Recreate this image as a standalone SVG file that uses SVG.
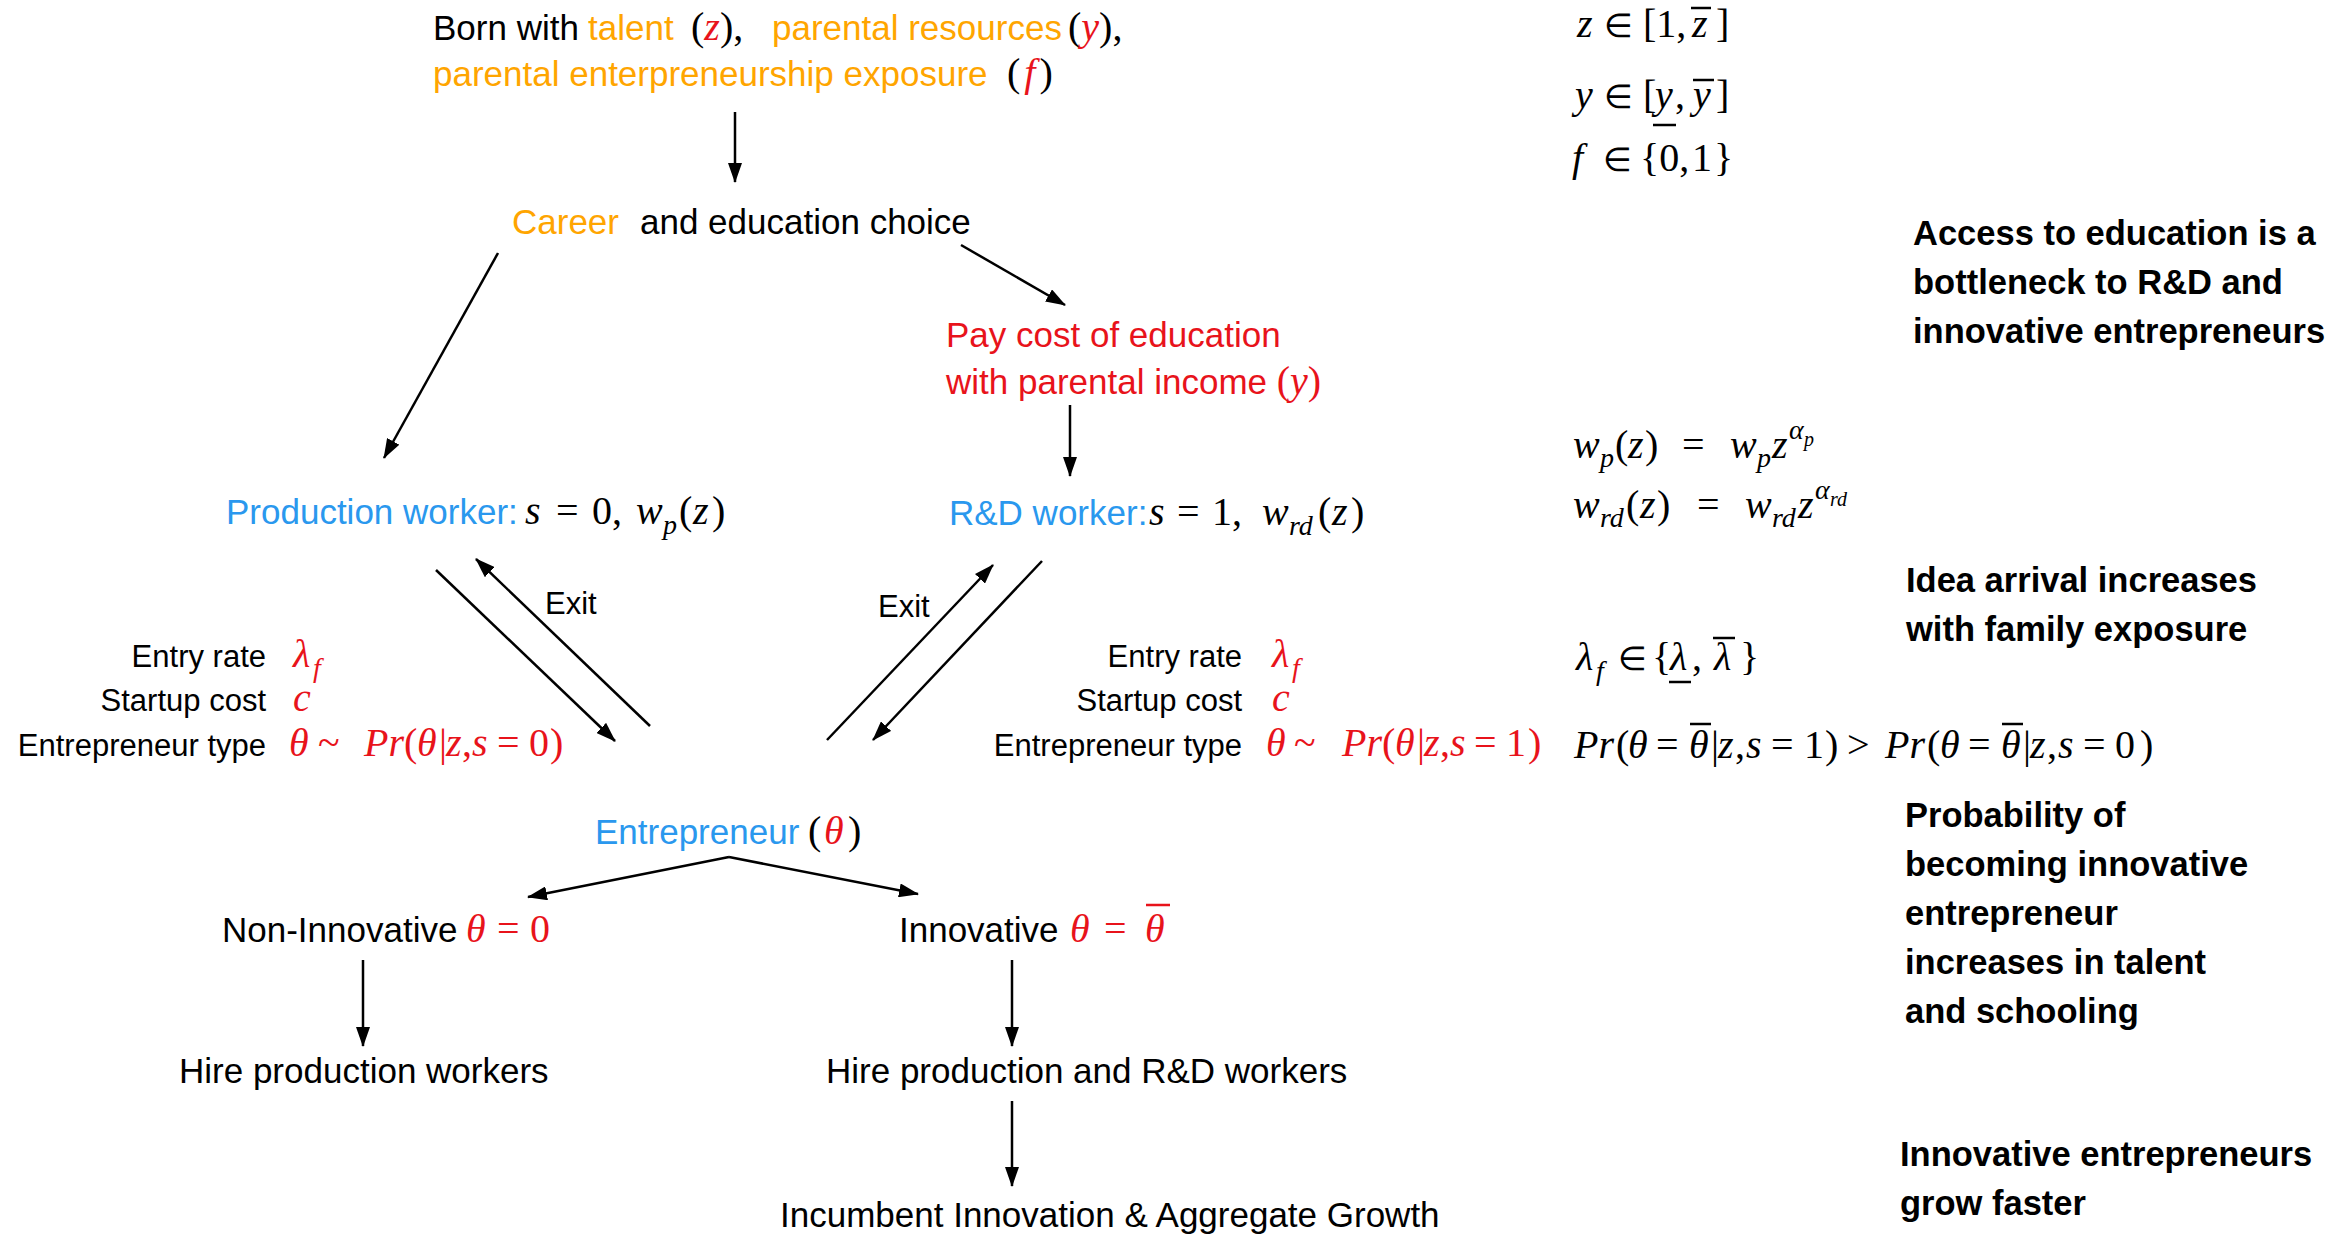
<svg xmlns="http://www.w3.org/2000/svg" width="2333" height="1235" viewBox="0 0 2333 1235">
<defs>
<style>
.t{font-family:"Liberation Sans",Arial,sans-serif;font-size:35px;fill:#000}
.s{font-family:"Liberation Sans",Arial,sans-serif;font-size:31px;fill:#000}
.b{font-family:"Liberation Sans",Arial,sans-serif;font-size:34.5px;font-weight:bold;fill:#000}
.m{font-family:"Liberation Serif","Times New Roman",serif;font-size:40px;fill:#000}
.i{font-style:italic}
.el{font-size:33px}
.or{fill:#FFA500}
.rd{fill:#E8131B}
.bl{fill:#2A98EE}
.sub{font-size:28px}
.ss{font-size:20px}
.bar{stroke:#000;stroke-width:2.5}
.rbar{stroke:#E8131B;stroke-width:2.5}
.c{stroke:#000;stroke-width:2.5;fill:none;marker-end:url(#ah)}
</style>
<marker id="ah" viewBox="0 0 20 14" refX="19" refY="7" markerWidth="20" markerHeight="14" orient="auto" markerUnits="userSpaceOnUse"><path d="M0,0 L20,7 L0,14 z" fill="#000"/></marker>
</defs>
<rect width="2333" height="1235" fill="#fff"/>

<g id="node-born">
<text class="t" y="40"><tspan x="433">Born with</tspan><tspan x="588" class="or">talent</tspan><tspan x="691" class="m">(</tspan><tspan class="m i rd">z</tspan><tspan class="m">),</tspan><tspan x="772" class="or">parental resources</tspan><tspan x="1068" class="m">(</tspan><tspan class="m i rd">y</tspan><tspan class="m">),</tspan></text>
<text class="t" y="86"><tspan x="433" class="or">parental enterpreneurship exposure</tspan><tspan x="1007" class="m">(</tspan><tspan class="m i rd" dx="4">f</tspan><tspan class="m" dx="4">)</tspan></text>
</g>

<g id="node-career">
<text class="t" y="234"><tspan x="512" class="or">Career</tspan><tspan x="640">and education choice</tspan></text>
</g>

<g id="node-paycost">
<text class="t rd" x="946" y="347">Pay cost of education</text>
<text class="t rd" x="946" y="394">with parental income <tspan class="m rd">(</tspan><tspan class="m i rd">y</tspan><tspan class="m rd">)</tspan></text>
</g>

<g id="node-production">
<text class="t bl" x="226" y="524">Production worker:</text>
<text class="m" y="524"><tspan x="525" class="i">s</tspan><tspan x="556">=</tspan><tspan x="592">0,</tspan><tspan x="636" class="i">w</tspan><tspan x="663" y="534" class="i sub">p</tspan><tspan x="679" y="524">(</tspan><tspan x="693" class="i">z</tspan><tspan x="712">)</tspan></text>
</g>

<g id="node-rd">
<text class="t bl" x="949" y="525">R&amp;D worker:</text>
<text class="m" y="525"><tspan x="1149" class="i">s</tspan><tspan x="1177">=</tspan><tspan x="1212">1,</tspan><tspan x="1262" class="i">w</tspan><tspan x="1289" y="535" class="i sub">rd</tspan><tspan x="1318" y="525">(</tspan><tspan x="1332" class="i">z</tspan><tspan x="1351">)</tspan></text>
</g>

<g id="label-exit-left"><text class="s" x="545" y="614">Exit</text></g>
<g id="label-exit-right"><text class="s" x="878" y="617">Exit</text></g>

<g id="node-entry-left">
<text class="s" x="266" y="667" text-anchor="end">Entry rate</text>
<text class="s" x="266" y="711" text-anchor="end">Startup cost</text>
<text class="s" x="266" y="756" text-anchor="end">Entrepreneur type</text>
<text class="m rd" y="667"><tspan x="293" class="i">λ</tspan><tspan x="313" y="677" class="i sub">f</tspan></text>
<text class="m rd i" x="293" y="711">c</text>
<text class="m rd" y="756"><tspan x="289" class="i">θ</tspan><tspan x="318">~</tspan><tspan x="364" class="i">Pr</tspan><tspan>(</tspan><tspan x="417" class="i">θ</tspan><tspan x="439">|</tspan><tspan x="446" class="i">z</tspan><tspan x="462">,</tspan><tspan x="472" class="i">s</tspan><tspan x="497">=</tspan><tspan x="529">0</tspan><tspan x="550">)</tspan></text>
</g>

<g id="node-entry-right">
<text class="s" x="1242" y="667" text-anchor="end">Entry rate</text>
<text class="s" x="1242" y="711" text-anchor="end">Startup cost</text>
<text class="s" x="1242" y="756" text-anchor="end">Entrepreneur type</text>
<text class="m rd" y="667"><tspan x="1272" class="i">λ</tspan><tspan x="1292" y="677" class="i sub">f</tspan></text>
<text class="m rd i" x="1272" y="711">c</text>
<text class="m rd" y="756"><tspan x="1266" class="i">θ</tspan><tspan x="1294">~</tspan><tspan x="1342" class="i">Pr</tspan><tspan>(</tspan><tspan x="1395" class="i">θ</tspan><tspan x="1417">|</tspan><tspan x="1424" class="i">z</tspan><tspan x="1440">,</tspan><tspan x="1450" class="i">s</tspan><tspan x="1474">=</tspan><tspan x="1506">1</tspan><tspan x="1528">)</tspan></text>
</g>

<g id="node-entrepreneur">
<text class="t bl" x="595" y="844">Entrepreneur</text>
<text class="m" y="844"><tspan x="808">(</tspan><tspan x="824" class="i rd">θ</tspan><tspan x="848">)</tspan></text>
</g>

<g id="node-noninnovative">
<text class="t" x="222" y="942">Non-Innovative</text>
<text class="m rd" y="942" font-size="42"><tspan x="466" class="i">θ</tspan><tspan x="497">=</tspan><tspan x="530">0</tspan></text>
</g>

<g id="node-innovative">
<text class="t" x="899" y="942">Innovative</text>
<text class="m rd" y="942" font-size="42"><tspan x="1070" class="i">θ</tspan><tspan x="1104">=</tspan><tspan x="1145" class="i">θ</tspan></text>
<line class="rbar" x1="1146" y1="905" x2="1170" y2="905"/>
</g>

<g id="node-hire-prod"><text class="t" x="179" y="1083">Hire production workers</text></g>
<g id="node-hire-both"><text class="t" x="826" y="1083">Hire production and R&amp;D workers</text></g>
<g id="node-growth"><text class="t" x="780" y="1227">Incumbent Innovation &amp; Aggregate Growth</text></g>

<g id="math-right">
<text class="m" y="37"><tspan x="1577" class="i">z</tspan><tspan x="1604" class="el">∈</tspan><tspan x="1643">[1,</tspan><tspan x="1692" class="i">z</tspan><tspan x="1716">]</tspan></text>
<line class="bar" x1="1691" y1="8" x2="1711" y2="8"/>
<text class="m" y="108"><tspan x="1575" class="i">y</tspan><tspan x="1604" class="el">∈</tspan><tspan x="1643">[</tspan><tspan x="1655" class="i">y</tspan><tspan x="1675">,</tspan><tspan x="1693" class="i">y</tspan><tspan x="1716">]</tspan></text>
<line class="bar" x1="1653" y1="125" x2="1676" y2="125"/>
<line class="bar" x1="1693" y1="80" x2="1714" y2="80"/>
<text class="m" y="171"><tspan x="1572" class="i">f</tspan><tspan x="1603" class="el">∈</tspan><tspan x="1640">{0,</tspan><tspan x="1692">1</tspan><tspan x="1714">}</tspan></text>

<text class="m" y="458"><tspan x="1573" class="i">w</tspan><tspan x="1600" y="467" class="i sub">p</tspan><tspan x="1615" y="458">(</tspan><tspan x="1628" class="i">z</tspan><tspan x="1645">)</tspan><tspan x="1682">=</tspan><tspan x="1730" class="i">w</tspan><tspan x="1757" y="467" class="i sub">p</tspan><tspan x="1772" y="458" class="i">z</tspan><tspan x="1789" y="439" class="i sub">α</tspan><tspan x="1804" y="446" class="i ss">p</tspan></text>
<text class="m" y="518"><tspan x="1573" class="i">w</tspan><tspan x="1600" y="527" class="i sub">rd</tspan><tspan x="1626" y="518">(</tspan><tspan x="1640" class="i">z</tspan><tspan x="1657">)</tspan><tspan x="1697">=</tspan><tspan x="1745" class="i">w</tspan><tspan x="1772" y="527" class="i sub">rd</tspan><tspan x="1798" y="518" class="i">z</tspan><tspan x="1815" y="499" class="i sub">α</tspan><tspan x="1830" y="506" class="i ss">rd</tspan></text>

<text class="m" y="670"><tspan x="1576" class="i">λ</tspan><tspan x="1596" y="680" class="i sub">f</tspan><tspan x="1618" y="670" class="el">∈</tspan><tspan x="1652">{</tspan><tspan x="1670" class="i">λ</tspan><tspan x="1692">,</tspan><tspan x="1714" class="i">λ</tspan><tspan x="1740">}</tspan></text>
<line class="bar" x1="1669" y1="682" x2="1691" y2="682"/>
<line class="bar" x1="1713" y1="638" x2="1735" y2="638"/>

<text class="m" y="758"><tspan x="1574" class="i">Pr</tspan><tspan x="1616">(</tspan><tspan x="1628" class="i">θ</tspan><tspan x="1656">=</tspan><tspan x="1689" class="i">θ</tspan><tspan x="1711">|</tspan><tspan x="1718" class="i">z</tspan><tspan x="1735">,</tspan><tspan x="1746" class="i">s</tspan><tspan x="1771">=</tspan><tspan x="1804">1</tspan><tspan x="1825">)</tspan><tspan x="1847">&gt;</tspan><tspan x="1885" class="i">Pr</tspan><tspan x="1927">(</tspan><tspan x="1940" class="i">θ</tspan><tspan x="1968">=</tspan><tspan x="2001" class="i">θ</tspan><tspan x="2023">|</tspan><tspan x="2030" class="i">z</tspan><tspan x="2047">,</tspan><tspan x="2058" class="i">s</tspan><tspan x="2083">=</tspan><tspan x="2115">0</tspan><tspan x="2140">)</tspan></text>
<line class="bar" x1="1690" y1="724" x2="1711" y2="724"/>
<line class="bar" x1="2002" y1="724" x2="2023" y2="724"/>
</g>

<g id="notes">
<text class="b" y="245"><tspan x="1913">Access to education is a</tspan><tspan x="1913" y="294">bottleneck to R&amp;D and</tspan><tspan x="1913" y="343">innovative entrepreneurs</tspan></text>
<text class="b" y="592"><tspan x="1906">Idea arrival increases</tspan><tspan x="1906" y="641">with family exposure</tspan></text>
<text class="b" y="827"><tspan x="1905">Probability of</tspan><tspan x="1905" y="876">becoming innovative</tspan><tspan x="1905" y="925">entrepreneur</tspan><tspan x="1905" y="974">increases in talent</tspan><tspan x="1905" y="1023">and schooling</tspan></text>
<text class="b" y="1166"><tspan x="1900">Innovative entrepreneurs</tspan><tspan x="1900" y="1215">grow faster</tspan></text>
</g>

<g id="connectors">
<line class="c" x1="735" y1="112" x2="735" y2="182"/>
<line class="c" x1="498" y1="253" x2="384" y2="458"/>
<line class="c" x1="961" y1="245" x2="1065" y2="305"/>
<line class="c" x1="1070" y1="405" x2="1070" y2="476"/>
<line class="c" x1="436" y1="570" x2="615" y2="741"/>
<line class="c" x1="650" y1="726" x2="476" y2="559"/>
<line class="c" x1="827" y1="740" x2="993" y2="565"/>
<line class="c" x1="1042" y1="561" x2="873" y2="740"/>
<line class="c" x1="729" y1="857" x2="528" y2="897"/>
<line class="c" x1="729" y1="857" x2="918" y2="894"/>
<line class="c" x1="363" y1="960" x2="363" y2="1046"/>
<line class="c" x1="1012" y1="960" x2="1012" y2="1046"/>
<line class="c" x1="1012" y1="1101" x2="1012" y2="1186"/>
</g>
</svg>
